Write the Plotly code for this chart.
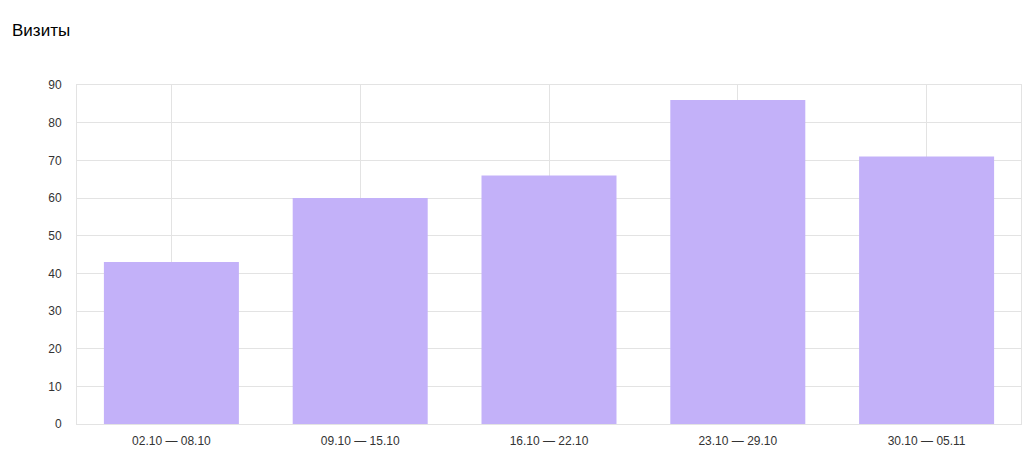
import plotly.graph_objects as go

categories = ["02.10 — 08.10", "09.10 — 15.10", "16.10 — 22.10", "23.10 — 29.10", "30.10 — 05.11"]
visits = [43, 60, 66, 86, 71]
y_ticks = [0, 10, 20, 30, 40, 50, 60, 70, 80, 90]

fig = go.Figure(go.Bar(
    x=categories, y=visits,
    marker=dict(color="#c3b1f9", line=dict(width=0)),
    hoverinfo="x+y",
))

fig.update_layout(
    width=1035, height=475,
    margin=dict(l=77, r=14, t=85, b=51),
    paper_bgcolor="white", plot_bgcolor="white",
    font=dict(family="Liberation Sans, Arial, sans-serif", size=12, color="#333333"),
    bargap=0.285,
    showlegend=False,
    title=dict(text="Визиты", x=12/1035, xanchor="left", xref="paper",
               y=1 - 30/475, yanchor="middle", yref="container",
               font=dict(size=17, color="#000000")),
)
fig.update_layout(title=dict(xref="container", x=12/1035))

fig.update_xaxes(
    type="category", showgrid=True, gridcolor="#e3e3e3", gridwidth=1,
    showline=True, linecolor="#e3e3e3", linewidth=1, mirror=True,
    ticks="", ticklabelstandoff=6, fixedrange=True,
)
fig.update_yaxes(
    range=[0, 90], tickvals=y_ticks, showgrid=True, gridcolor="#e3e3e3", gridwidth=1,
    showline=True, linecolor="#e3e3e3", linewidth=1, mirror=True,
    zeroline=False, ticks="", ticklabelstandoff=12, fixedrange=True,
)

fig.write_html("out.html")
